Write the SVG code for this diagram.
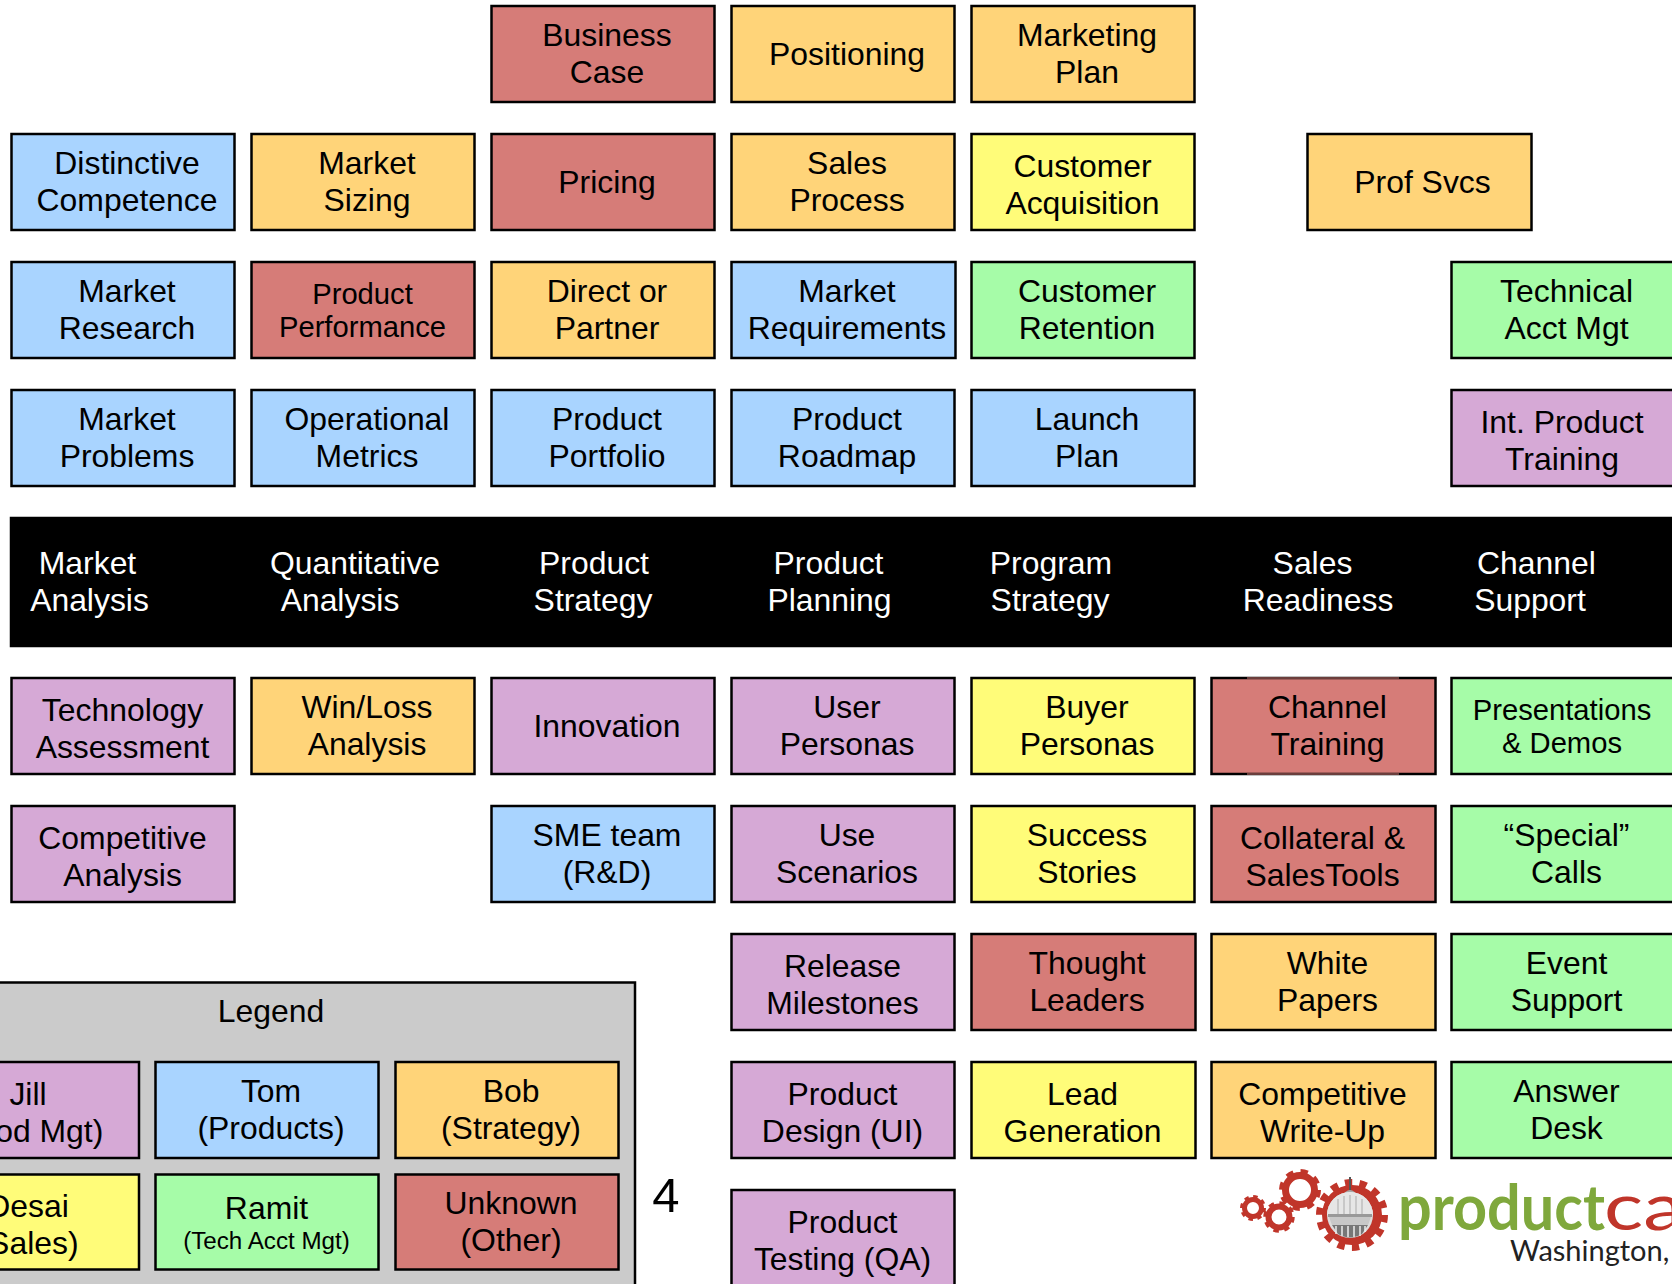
<svg xmlns="http://www.w3.org/2000/svg" width="1672" height="1284" viewBox="0 0 1672 1284">
<style>
text{font-family:"Liberation Sans",Arial,sans-serif;font-size:31.9px;text-anchor:middle;fill:#000}
rect{stroke:#000;stroke-width:2.5}
.b{fill:#A9D4FF}.o{fill:#FFD479}.r{fill:#D67C78}.g{fill:#A6FCA8}.y{fill:#FFFC79}.p{fill:#D6A9D6}
.w{fill:#fff}
.s{font-size:29.2px}
.xs{font-size:24.2px}
.gear{fill:none;stroke:#C0352A}
</style>
<g id="business-case"><rect class="r" x="491.500" y="6" width="223" height="96"/><text x="607" y="46">Business</text><text x="607" y="83">Case</text></g>
<g id="positioning"><rect class="o" x="731.500" y="6" width="223" height="96"/><text x="847" y="65">Positioning</text></g>
<g id="marketing-plan"><rect class="o" x="971.500" y="6" width="223" height="96"/><text x="1087" y="46">Marketing</text><text x="1087" y="83">Plan</text></g>

<g id="distinctive-competence"><rect class="b" x="11.500" y="134" width="223" height="96"/><text x="127" y="174">Distinctive</text><text x="127" y="211">Competence</text></g>
<g id="market-sizing"><rect class="o" x="251.500" y="134" width="223" height="96"/><text x="367" y="174">Market</text><text x="367" y="211">Sizing</text></g>
<g id="pricing"><rect class="r" x="491.500" y="134" width="223" height="96"/><text x="607" y="193">Pricing</text></g>
<g id="sales-process"><rect class="o" x="731.500" y="134" width="223" height="96"/><text x="847" y="174">Sales</text><text x="847" y="211">Process</text></g>
<g id="customer-acquisition"><rect class="y" x="971.500" y="134" width="223" height="96"/><text x="1082.500" y="177">Customer</text><text x="1082.500" y="214">Acquisition</text></g>
<g id="prof-svcs"><rect class="o" x="1307.500" y="134" width="224" height="96"/><text x="1422.500" y="193">Prof Svcs</text></g>

<g id="market-research"><rect class="b" x="11.500" y="262" width="223" height="96"/><text x="127" y="302">Market</text><text x="127" y="339">Research</text></g>
<g id="product-performance"><rect class="r" x="251.500" y="262" width="223" height="96"/><text class="s" x="362.500" y="304">Product</text><text class="s" x="362.500" y="337">Performance</text></g>
<g id="direct-or-partner"><rect class="o" x="491.500" y="262" width="223" height="96"/><text x="607" y="302">Direct or</text><text x="607" y="339">Partner</text></g>
<g id="market-requirements"><rect class="b" x="731.500" y="262" width="224" height="96"/><text x="847" y="302">Market</text><text x="847" y="339">Requirements</text></g>
<g id="customer-retention"><rect class="g" x="971.500" y="262" width="223" height="96"/><text x="1087" y="302">Customer</text><text x="1087" y="339">Retention</text></g>
<g id="technical-acct-mgt"><rect class="g" x="1451.500" y="262" width="223" height="96"/><text x="1566.500" y="302">Technical</text><text x="1566.500" y="339">Acct Mgt</text></g>

<g id="market-problems"><rect class="b" x="11.500" y="390" width="223" height="96"/><text x="127" y="430">Market</text><text x="127" y="467">Problems</text></g>
<g id="operational-metrics"><rect class="b" x="251.500" y="390" width="223" height="96"/><text x="367" y="430">Operational</text><text x="367" y="467">Metrics</text></g>
<g id="product-portfolio"><rect class="b" x="491.500" y="390" width="223" height="96"/><text x="607" y="430">Product</text><text x="607" y="467">Portfolio</text></g>
<g id="product-roadmap"><rect class="b" x="731.500" y="390" width="223" height="96"/><text x="847" y="430">Product</text><text x="847" y="467">Roadmap</text></g>
<g id="launch-plan"><rect class="b" x="971.500" y="390" width="223" height="96"/><text x="1087" y="430">Launch</text><text x="1087" y="467">Plan</text></g>
<g id="int-product-training"><rect class="p" x="1451.500" y="390" width="223" height="96"/><text x="1562" y="433">Int. Product</text><text x="1562" y="470">Training</text></g>

<g id="band">
<rect x="11" y="518" width="1664" height="128" fill="#000"/>
<text class="w" x="87.500" y="574">Market</text><text class="w" x="89.500" y="611">Analysis</text>
<text class="w" x="355" y="574">Quantitative</text><text class="w" x="340" y="611">Analysis</text>
<text class="w" x="594" y="574">Product</text><text class="w" x="593" y="611">Strategy</text>
<text class="w" x="828.500" y="574">Product</text><text class="w" x="829.500" y="611">Planning</text>
<text class="w" x="1051" y="574">Program</text><text class="w" x="1050" y="611">Strategy</text>
<text class="w" x="1312.500" y="574">Sales</text><text class="w" x="1318" y="611">Readiness</text>
<text class="w" x="1536.500" y="574">Channel</text><text class="w" x="1530" y="611">Support</text>
</g>

<g id="technology-assessment"><rect class="p" x="11.500" y="678" width="223" height="96"/><text x="122.500" y="721">Technology</text><text x="122.500" y="758">Assessment</text></g>
<g id="win-loss-analysis"><rect class="o" x="251.500" y="678" width="223" height="96"/><text x="367" y="718">Win/Loss</text><text x="367" y="755">Analysis</text></g>
<g id="innovation"><rect class="p" x="491.500" y="678" width="223" height="96"/><text x="607" y="737">Innovation</text></g>
<g id="user-personas"><rect class="p" x="731.500" y="678" width="223" height="96"/><text x="847" y="718">User</text><text x="847" y="755">Personas</text></g>
<g id="buyer-personas"><rect class="y" x="971.500" y="678" width="223" height="96"/><text x="1087" y="718">Buyer</text><text x="1087" y="755">Personas</text></g>
<g id="channel-training"><rect class="r" x="1211.500" y="678" width="224" height="96"/><path d="M1247 678H1399M1247 774H1399" fill="none" stroke="#D67C78" stroke-width="1"/><text x="1327.500" y="718">Channel</text><text x="1327.500" y="755">Training</text></g>
<g id="presentations-demos"><rect class="g" x="1451.500" y="678" width="223" height="96"/><text class="s" x="1562" y="720">Presentations</text><text class="s" x="1562" y="753">&amp; Demos</text></g>

<g id="competitive-analysis"><rect class="p" x="11.500" y="806" width="223" height="96"/><text x="122.500" y="849">Competitive</text><text x="122.500" y="886">Analysis</text></g>
<g id="sme-team"><rect class="b" x="491.500" y="806" width="223" height="96"/><text x="607" y="846">SME team</text><text x="607" y="883">(R&amp;D)</text></g>
<g id="use-scenarios"><rect class="p" x="731.500" y="806" width="223" height="96"/><text x="847" y="846">Use</text><text x="847" y="883">Scenarios</text></g>
<g id="success-stories"><rect class="y" x="971.500" y="806" width="223" height="96"/><text x="1087" y="846">Success</text><text x="1087" y="883">Stories</text></g>
<g id="collateral-salestools"><rect class="r" x="1211.500" y="806" width="224" height="96"/><text x="1322.500" y="849">Collateral &amp;</text><text x="1322.500" y="886">SalesTools</text></g>
<g id="special-calls"><rect class="g" x="1451.500" y="806" width="223" height="96"/><text x="1566.500" y="846">“Special”</text><text x="1566.500" y="883">Calls</text></g>

<g id="release-milestones"><rect class="p" x="731.500" y="934" width="223" height="96"/><text x="842.500" y="977">Release</text><text x="842.500" y="1014">Milestones</text></g>
<g id="thought-leaders"><rect class="r" x="971.500" y="934" width="224" height="96"/><text x="1087" y="974">Thought</text><text x="1087" y="1011">Leaders</text></g>
<g id="white-papers"><rect class="o" x="1211.500" y="934" width="224" height="96"/><text x="1327.500" y="974">White</text><text x="1327.500" y="1011">Papers</text></g>
<g id="event-support"><rect class="g" x="1451.500" y="934" width="223" height="96"/><text x="1566.500" y="974">Event</text><text x="1566.500" y="1011">Support</text></g>

<g id="product-design"><rect class="p" x="731.500" y="1062" width="223" height="96"/><text x="842.500" y="1105">Product</text><text x="842.500" y="1142">Design (UI)</text></g>
<g id="lead-generation"><rect class="y" x="971.500" y="1062" width="224" height="96"/><text x="1082.500" y="1105">Lead</text><text x="1082.500" y="1142">Generation</text></g>
<g id="competitive-write-up"><rect class="o" x="1211.500" y="1062" width="224" height="96"/><text x="1322.500" y="1105">Competitive</text><text x="1322.500" y="1142">Write-Up</text></g>
<g id="answer-desk"><rect class="g" x="1451.500" y="1062" width="223" height="96"/><text x="1566.500" y="1102">Answer</text><text x="1566.500" y="1139">Desk</text></g>

<g id="product-testing"><rect class="p" x="731.500" y="1190" width="223" height="96"/><text x="842.500" y="1233">Product</text><text x="842.500" y="1270">Testing (QA)</text></g>

<g id="legend">
<rect x="-20" y="982.500" width="655" height="320" fill="#CBCBCB"/>
<text x="271" y="1022">Legend</text>
<g id="legend-jill"><rect class="p" x="-85" y="1062" width="224" height="96"/><text x="28" y="1105">Jill</text><text x="28" y="1142">(Prod Mgt)</text></g>
<g id="legend-tom"><rect class="b" x="155.500" y="1062" width="223" height="96"/><text x="271" y="1102">Tom</text><text x="271" y="1139">(Products)</text></g>
<g id="legend-bob"><rect class="o" x="395.500" y="1062" width="223" height="96"/><text x="511" y="1102">Bob</text><text x="511" y="1139">(Strategy)</text></g>
<g id="legend-desai"><rect class="y" x="-85" y="1174.500" width="224" height="95"/><text x="28" y="1217">Desai</text><text x="28" y="1254">(Sales)</text></g>
<g id="legend-ramit"><rect class="g" x="155.500" y="1174.500" width="223" height="95"/><text x="266.500" y="1219">Ramit</text><text class="xs" x="266.500" y="1249">(Tech Acct Mgt)</text></g>
<g id="legend-unknown"><rect class="r" x="395.500" y="1174.500" width="223" height="95"/><text x="511" y="1214">Unknown</text><text x="511" y="1251">(Other)</text></g>
</g>

<text id="page-number" x="666" y="1212" style="font-size:49px">4</text>

<g id="logo">
<g id="gear-small">
<circle class="gear" cx="1253" cy="1208" r="8.500" stroke-width="5"/>
<circle class="gear" cx="1253" cy="1208" r="11.500" stroke-width="3" stroke-dasharray="4.500 4.500"/>
</g>
<g id="gear-mid">
<circle class="gear" cx="1279" cy="1217" r="10.500" stroke-width="6"/>
<circle class="gear" cx="1279" cy="1217" r="14" stroke-width="3.500" stroke-dasharray="5.500 5.500"/>
</g>
<g id="gear-top">
<circle class="gear" cx="1300" cy="1190" r="14.500" stroke-width="7"/>
<circle class="gear" cx="1300" cy="1190" r="19" stroke-width="4" stroke-dasharray="7.460 7.460"/>
</g>
<g id="gear-big">
<circle cx="1352" cy="1215" r="30" fill="#C0352A"/>
<circle class="gear" cx="1352" cy="1215" r="32" stroke-width="8" stroke-dasharray="7.180 7.180"/>
</g>
<g id="capitol">
<path d="M1349 1177h2v14h-2z" fill="#555"/>
<path d="M1344 1196a6 6 0 0 1 12 0z" fill="#AAA"/>
<circle cx="1350" cy="1215" r="23" fill="#DDD"/>
<path d="M1327 1215a23 23 0 0 1 46 0z" fill="#E6E6E6"/>
<path d="M1338 1199v15M1344 1196v18M1350 1195v19M1356 1196v18M1362 1199v15" stroke="#AAA" stroke-width="1" fill="none"/>
<path d="M1328 1214h44v3h-44z" fill="#999"/>
<path d="M1329 1217h42l-3 8h-36z" fill="#C8C8C8"/>
<path d="M1332 1225h36l-6 9a23 23 0 0 1-24 0z" fill="#777"/>
<path d="M1336 1226v8M1342 1226v10M1348 1226v11M1354 1226v11M1360 1226v10M1365 1226v6" stroke="#EEE" stroke-width="1.500" fill="none"/>
</g>
<text x="1398" y="1230" style="font-family:Lato,sans-serif;font-size:64px;text-anchor:start;fill:#7FA83C;font-weight:700" textLength="207" lengthAdjust="spacingAndGlyphs">product</text>
<text x="1604" y="1230" style="font-family:Lato,sans-serif;font-size:64px;text-anchor:start;fill:#C0352A;font-weight:400" textLength="80" lengthAdjust="spacingAndGlyphs">ca</text>
<text x="1510" y="1261" style="font-family:Lato,sans-serif;font-size:29px;text-anchor:start;fill:#222">Washington,</text>
</g>
</svg>
